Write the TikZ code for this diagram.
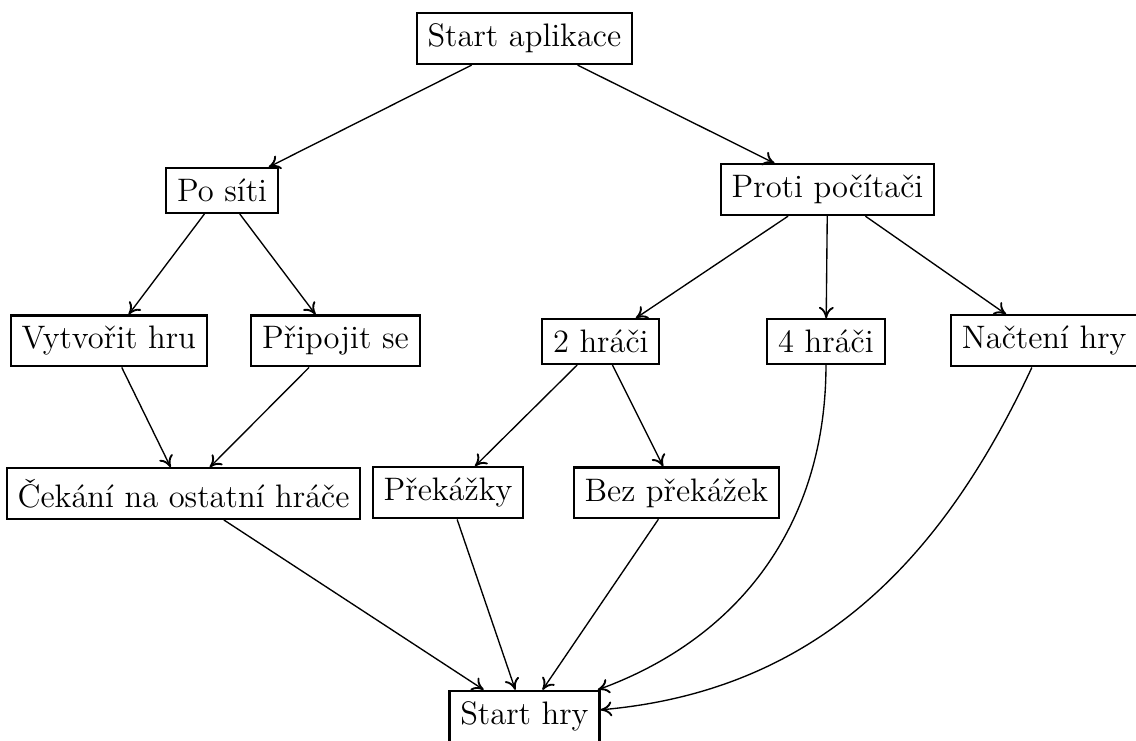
\documentclass[12pt,tikz,border=0pt]{standalone}
\usetikzlibrary{arrows.meta}

\begin{document}
\begin{tikzpicture}[
    >={To[length=4.2pt, width=5.5pt, line width=0.7pt]}, line width=0.5pt,
    box/.style={draw, thick}
  ]
  \useasboundingbox (-6.80,0.50) rectangle (7.93,-9.10);

  \node[box] (start) at (0,0) {Start aplikace};

  \node[box] (network) at (-3.92,-1.97) {Po síti};
  \node[box] (computer) at (3.93,-1.96) {Proti počítači};

  \node[box] (create) at (-5.39,-3.92) {Vytvořit hru};
  \node[box] (join) at (-2.45,-3.92) {Připojit se};
  \node[box] (two) at (0.99,-3.93) {2 hráči};
  \node[box] (four) at (3.91,-3.93) {4 hráči};
  \node[box] (load) at (6.74,-3.92) {Načtení hry};

  \node[box] (wait) at (-4.42,-5.90) {Čekání na ostatní hráče};
  \node[box] (obst) at (-0.99,-5.89) {Překážky};
  \node[box] (noobst) at (1.97,-5.89) {Bez překážek};

  \node[box] (game) at (0,-8.79) {Start hry};

  \draw[->] (start) -- (network);
  \draw[->] (start) -- (computer);
  \draw[->] (network) -- (create);
  \draw[->] (network) -- (join);
  \draw[->] (computer) -- (two);
  \draw[->] (computer) -- (four);
  \draw[->] (computer) -- (load);
  \draw[->] (create) -- (wait);
  \draw[->] (join) -- (wait);
  \draw[->] (two) -- (obst);
  \draw[->] (two) -- (noobst);
  \draw[->] (wait) -- (game);
  \draw[->] (obst) -- (game);
  \draw[->] (noobst) -- (game);
  \draw[->] (four) to[out=-90, in=20] (game);
  \draw[->] (load) to[out=-115, in=5] (game);
\end{tikzpicture}
\end{document}
